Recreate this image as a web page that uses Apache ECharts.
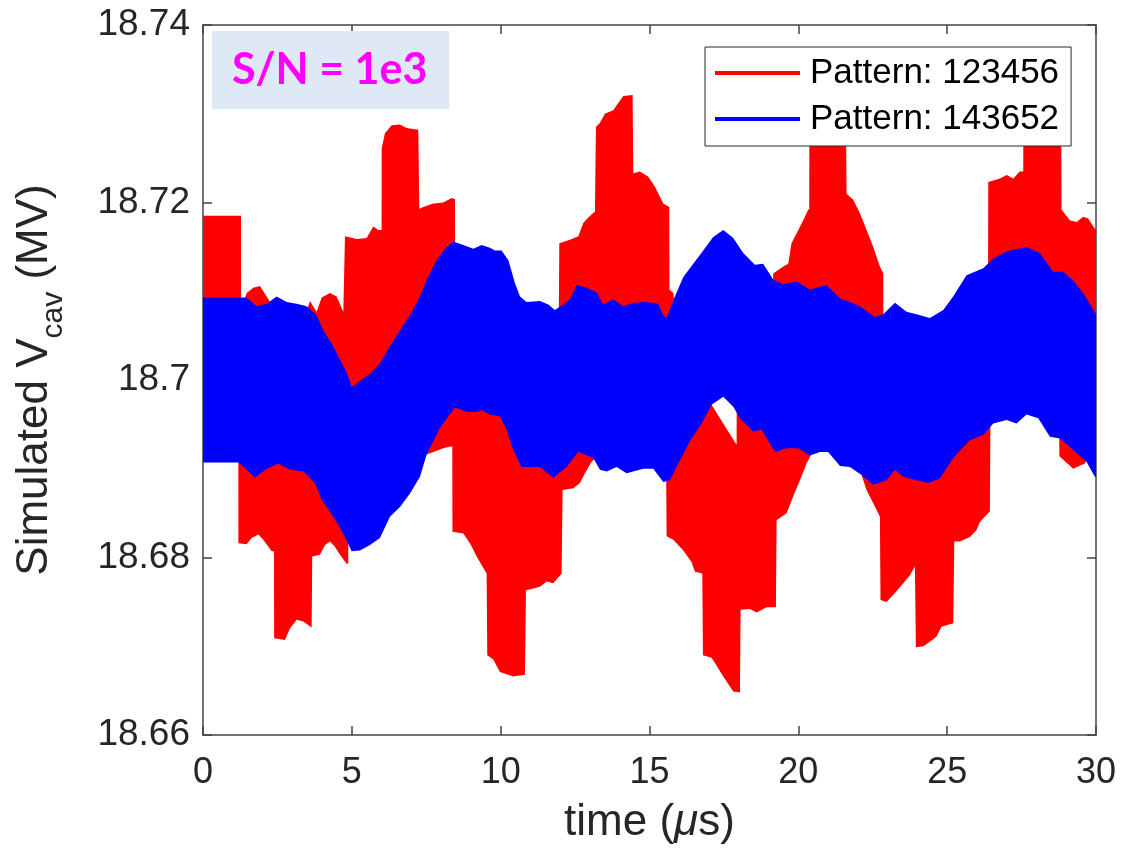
<!DOCTYPE html>
<html>
<head>
<meta charset="utf-8">
<script src="https://cdn.jsdelivr.net/npm/echarts@6/dist/echarts.min.js"></script>
<style>
  html, body { margin: 0; padding: 0; background: #fff; }
  #chart { width: 1122px; height: 860px; }
</style>
</head>
<body>
<div id="chart"></div>
<script>
// Envelopes of the simulated cavity voltage (time in µs, voltage in MV).
// Each band is the region between the upper and lower envelope of the fast ripple.
const seriesNames = ['Pattern: 123456', 'Pattern: 143652'];
const seriesColors = ['#ff0000', '#0000ff'];

const redUpper = [
  [0, 18.7185], [1.277, 18.7185], [1.28, 18.708], [1.467, 18.7098], [1.69, 18.7104], [1.915, 18.7106],
  [2.139, 18.7094], [2.306, 18.7085], [2.5, 18.707], [3.4, 18.707], [3.594, 18.7089], [3.818, 18.7077],
  [3.986, 18.7093], [4.266, 18.7098], [4.49, 18.7094], [4.714, 18.7077], [4.77, 18.7162], [5.162, 18.7159],
  [5.497, 18.716], [5.72, 18.7173], [5.89, 18.7169], [6.0, 18.7169], [6.003, 18.7261], [6.113, 18.7278],
  [6.337, 18.7287], [6.617, 18.7288], [6.841, 18.7284], [7.233, 18.7282], [7.267, 18.7193], [7.4, 18.7195],
  [7.737, 18.7199], [8.073, 18.72], [8.353, 18.7205], [8.465, 18.7204], [8.475, 18.706], [11.95, 18.706],
  [11.97, 18.7154], [12.328, 18.7158], [12.608, 18.7162], [12.776, 18.7177], [12.943, 18.7183], [13.167, 18.719],
  [13.2, 18.7285], [13.336, 18.729], [13.5, 18.73], [13.78, 18.7304], [13.95, 18.7312], [14.12, 18.732],
  [14.433, 18.7321], [14.455, 18.7233], [14.68, 18.7235], [14.96, 18.7229], [15.18, 18.7218], [15.463, 18.7199],
  [15.664, 18.7195], [15.67, 18.7102], [15.8, 18.7098], [15.89, 18.707], [16.9, 18.707], [17.086, 18.6972],
  [17.5, 18.695], [17.926, 18.6927], [17.94, 18.707], [19.1, 18.707], [19.158, 18.712], [19.494, 18.7128],
  [19.662, 18.7131], [19.77, 18.7154], [19.94, 18.7165], [20.165, 18.718], [20.333, 18.7192], [20.367, 18.7192],
  [20.37, 18.73], [21.6, 18.73], [21.62, 18.721], [21.845, 18.7203], [22.07, 18.7188], [22.293, 18.7169],
  [22.517, 18.715], [22.741, 18.7128], [22.853, 18.712], [22.86, 18.705], [26.37, 18.705], [26.38, 18.7223],
  [26.77, 18.7227], [26.996, 18.7231], [27.22, 18.7227], [27.44, 18.7235], [27.556, 18.7235], [27.56, 18.73],
  [28.83, 18.73], [28.843, 18.7192], [29.12, 18.718], [29.35, 18.7178], [29.57, 18.7184], [29.74, 18.7182],
  [29.91, 18.7173], [30, 18.7169]
];

const redLower = [
  [0, 18.692], [1.187, 18.692], [1.19, 18.6816], [1.467, 18.6815], [1.635, 18.6822], [1.859, 18.6826],
  [2.027, 18.682], [2.306, 18.6807], [2.385, 18.6807], [2.39, 18.6709], [2.754, 18.6707], [2.922, 18.672],
  [3.146, 18.673], [3.37, 18.6728], [3.65, 18.6721], [3.67, 18.6801], [3.93, 18.6803], [4.098, 18.6814],
  [4.266, 18.6818], [4.434, 18.6812], [4.602, 18.6803], [4.826, 18.6793], [4.88, 18.6793], [4.9, 18.69],
  [7.0, 18.6915], [7.513, 18.6916], [7.737, 18.6919], [8.073, 18.6923], [8.3, 18.6925], [8.375, 18.6925],
  [8.38, 18.6829], [8.745, 18.6827], [8.969, 18.6816], [9.193, 18.6801], [9.528, 18.6782], [9.55, 18.669],
  [9.752, 18.6685], [9.976, 18.6671], [10.42, 18.6666], [10.816, 18.6668], [10.85, 18.6763], [11.096, 18.6765],
  [11.32, 18.6767], [11.544, 18.6773], [11.768, 18.6771], [12.048, 18.6782], [12.08, 18.6876], [12.44, 18.6878],
  [12.664, 18.6884], [12.83, 18.6895], [13.056, 18.6908], [13.223, 18.6913], [13.4, 18.694], [15.55, 18.694],
  [15.575, 18.6824], [15.8, 18.682], [16.135, 18.6808], [16.414, 18.6795], [16.526, 18.6784], [16.773, 18.6782],
  [16.795, 18.669], [17.086, 18.6687], [17.198, 18.6681], [17.478, 18.6666], [17.814, 18.6649], [18.038, 18.6648],
  [18.06, 18.6741], [18.374, 18.6742], [18.598, 18.6738], [18.934, 18.6744], [19.247, 18.6744], [19.27, 18.6842],
  [19.606, 18.685], [19.83, 18.6869], [20.054, 18.6887], [20.278, 18.6906], [20.445, 18.6917], [20.6, 18.694],
  [21.9, 18.694], [22.125, 18.6893], [22.29, 18.6876], [22.517, 18.6861], [22.741, 18.6846], [22.76, 18.6752],
  [22.965, 18.675], [23.245, 18.676], [23.525, 18.6771], [23.749, 18.678], [23.916, 18.679], [23.95, 18.6699],
  [24.2, 18.67], [24.42, 18.6705], [24.645, 18.6711], [24.81, 18.6722], [25.204, 18.6726], [25.24, 18.6818],
  [25.428, 18.6818], [25.764, 18.6823], [25.988, 18.6831], [26.1, 18.684], [26.435, 18.6852], [26.46, 18.699],
  [28.75, 18.699], [28.77, 18.6914], [29.235, 18.69], [29.626, 18.6906], [29.75, 18.6915], [30, 18.692]
];

const blueUpper = [
  [0, 18.7093], [1.467, 18.7093], [1.8, 18.7083], [2.139, 18.7086], [2.475, 18.7094], [2.81, 18.7088],
  [3.146, 18.7086], [3.482, 18.7083], [3.818, 18.7073], [4.042, 18.7056], [4.378, 18.7038], [4.6, 18.7023],
  [4.826, 18.7009], [4.993, 18.6992], [5.273, 18.6999], [5.61, 18.7007], [5.945, 18.7019], [6.28, 18.7038],
  [6.617, 18.7056], [6.953, 18.7073], [7.29, 18.7094], [7.513, 18.7113], [7.849, 18.7135], [8.129, 18.7148],
  [8.409, 18.7156], [8.745, 18.7152], [9.08, 18.7148], [9.36, 18.7152], [9.64, 18.7149], [9.81, 18.7146],
  [10.03, 18.7146], [10.26, 18.7135], [10.48, 18.7109], [10.65, 18.7094], [10.87, 18.7088], [11.32, 18.7089],
  [11.6, 18.7085], [11.82, 18.7079], [12.104, 18.7085], [12.328, 18.7091], [12.55, 18.7107], [12.887, 18.7104],
  [13.223, 18.7099], [13.447, 18.7085], [13.78, 18.7091], [14.12, 18.7083], [14.455, 18.7087], [14.9, 18.7088],
  [15.295, 18.7086], [15.463, 18.7073], [15.575, 18.707], [15.8, 18.709], [16.135, 18.7116], [16.47, 18.7131],
  [16.806, 18.7146], [17.14, 18.7161], [17.478, 18.7169], [17.814, 18.716], [18.15, 18.7143], [18.54, 18.713],
  [18.82, 18.7131], [19.158, 18.7113], [19.494, 18.7108], [19.94, 18.7111], [20.39, 18.7102], [20.95, 18.7107],
  [21.4, 18.7092], [21.73, 18.7088], [22.07, 18.7083], [22.57, 18.7071], [22.853, 18.7074], [23.245, 18.7087],
  [23.636, 18.7077], [23.97, 18.7074], [24.42, 18.707], [24.868, 18.7079], [25.2, 18.7094], [25.65, 18.7118],
  [26.21, 18.7126], [26.55, 18.7137], [26.996, 18.7145], [27.67, 18.715], [28.115, 18.7143], [28.56, 18.7122],
  [28.9, 18.7122], [29.235, 18.7112], [29.57, 18.7098], [29.795, 18.7086], [30, 18.7074]
];

const blueLower = [
  [0, 18.6907], [1.187, 18.6907], [1.467, 18.6899], [1.746, 18.689], [2.083, 18.6899], [2.53, 18.6906],
  [2.922, 18.6899], [3.37, 18.6897], [3.762, 18.6884], [3.986, 18.6865], [4.378, 18.6846], [4.714, 18.6827],
  [4.993, 18.6807], [5.273, 18.6808], [5.61, 18.6814], [5.945, 18.6822], [6.28, 18.6846], [6.617, 18.6857],
  [6.953, 18.6872], [7.29, 18.6891], [7.513, 18.6916], [7.96, 18.6946], [8.465, 18.6969], [8.857, 18.6964],
  [9.19, 18.6964], [9.36, 18.6966], [9.64, 18.6961], [9.976, 18.6959], [10.2, 18.6944], [10.42, 18.6921],
  [10.7, 18.6902], [11.32, 18.6902], [11.768, 18.689], [12.216, 18.6902], [12.608, 18.6919], [13.11, 18.6912],
  [13.335, 18.6899], [13.56, 18.6897], [13.895, 18.6902], [14.23, 18.6895], [14.79, 18.69], [15.127, 18.69],
  [15.463, 18.6885], [15.687, 18.6887], [15.91, 18.6902], [16.358, 18.6931], [16.75, 18.6951], [17.086, 18.6972],
  [17.478, 18.6981], [17.814, 18.697], [18.038, 18.6957], [18.486, 18.6942], [18.766, 18.6944], [19.214, 18.6919],
  [19.606, 18.6923], [19.997, 18.6923], [20.39, 18.6915], [20.725, 18.6919], [21.0, 18.6919], [21.4, 18.6903],
  [21.73, 18.6902], [22.125, 18.6893], [22.517, 18.6882], [22.965, 18.6887], [23.245, 18.6899], [23.525, 18.6891],
  [23.97, 18.6887], [24.365, 18.6884], [24.756, 18.6889], [25.204, 18.6912], [25.764, 18.6932], [26.21, 18.6938],
  [26.55, 18.6951], [26.996, 18.6955], [27.33, 18.6951], [27.67, 18.6961], [28.06, 18.6957], [28.45, 18.6936],
  [28.79, 18.6934], [29.235, 18.6921], [29.68, 18.6908], [29.96, 18.6891], [30, 18.6891]
];

const xRange = [0, 30, 5];           // min, max, tick step (µs)
const yRange = [18.66, 18.74, 0.02]; // min, max, tick step (MV)
const annotationText = 'S/N = 1e3';

const axisColor = '#444444';
const textColor = '#262626';

// Closed polygon: upper envelope left to right, then lower envelope back.
function bandRenderer(upper, lower, color) {
  return function (params, api) {
    if (params.dataIndex !== 0) return null;
    const pts = upper.map(p => api.coord(p));
    for (let i = lower.length - 1; i >= 0; i--) pts.push(api.coord(lower[i]));
    return { type: 'polygon', shape: { points: pts }, style: { fill: color, stroke: null } };
  };
}

function frameAxis(extra) {
  return Object.assign({
    type: 'value',
    axisLine: { show: true, onZero: false, lineStyle: { color: axisColor, width: 1.5 } },
    axisTick: { show: true, inside: true, length: 9, lineStyle: { color: axisColor, width: 1.5 } },
    splitLine: { show: false }
  }, extra);
}

const chart = echarts.init(document.getElementById('chart'), null, { renderer: 'canvas' });

chart.setOption({
  animation: false,
  backgroundColor: '#ffffff',
  title: {
    text: annotationText,
    left: 212, top: 31,
    backgroundColor: '#dfe9f5',
    padding: [15, 22, 15, 20],
    textStyle: { color: '#ff00ff', fontFamily: 'Lato', fontWeight: 'bold', fontSize: 43, lineHeight: 48 }
  },
  legend: {
    orient: 'vertical',
    left: 705, top: 47,
    padding: [6, 12, 7, 10],
    itemGap: 6,
    itemWidth: 85, itemHeight: 4,
    icon: 'rect',
    backgroundColor: '#ffffff',
    borderColor: '#262626', borderWidth: 1,
    data: seriesNames,
    textStyle: { color: '#000', fontFamily: 'Liberation Sans', fontSize: 35, lineHeight: 40, padding: [0, 0, 0, 5] }
  },
  grid: { left: 203, right: 26, top: 25, bottom: 125, containLabel: false },
  xAxis: [
    frameAxis({
      min: xRange[0], max: xRange[1], interval: xRange[2], position: 'bottom',
      axisLabel: { color: textColor, fontFamily: 'Liberation Sans', fontSize: 36, margin: 20 },
      name: '{a|time (}{m|μ}{a|s)}',
      nameLocation: 'middle', nameGap: 66,
      nameTextStyle: {
        rich: {
          a: { color: textColor, fontFamily: 'Liberation Sans', fontSize: 44 },
          m: { color: textColor, fontFamily: 'Liberation Sans', fontSize: 44, fontStyle: 'italic' }
        }
      }
    }),
    frameAxis({
      min: xRange[0], max: xRange[1], interval: xRange[2], position: 'top',
      axisLabel: { show: false }
    })
  ],
  yAxis: [
    frameAxis({
      min: yRange[0], max: yRange[1], interval: yRange[2], position: 'left',
      axisLabel: {
        color: textColor, fontFamily: 'Liberation Sans', fontSize: 37, margin: 13,
        formatter: v => String(Math.round(v * 100) / 100)
      },
      name: '{a|Simulated V}{s|cav}{a| (MV)}',
      nameLocation: 'middle', nameRotate: 90, nameGap: 134,
      nameTextStyle: {
        rich: {
          a: { color: textColor, fontFamily: 'Liberation Sans', fontSize: 44, lineHeight: 68 },
          s: { color: textColor, fontFamily: 'Liberation Sans', fontSize: 30, lineHeight: 30, verticalAlign: 'bottom' }
        }
      }
    }),
    frameAxis({
      min: yRange[0], max: yRange[1], interval: yRange[2], position: 'right',
      axisLabel: { show: false }
    })
  ],
  series: [
    {
      type: 'custom', name: seriesNames[0], xAxisIndex: 0, yAxisIndex: 0,
      clip: true, silent: true, z: 2,
      itemStyle: { color: seriesColors[0] },
      encode: { x: 0, y: 1 },
      data: redUpper,
      renderItem: bandRenderer(redUpper, redLower, seriesColors[0])
    },
    {
      type: 'custom', name: seriesNames[1], xAxisIndex: 0, yAxisIndex: 0,
      clip: true, silent: true, z: 3,
      itemStyle: { color: seriesColors[1] },
      encode: { x: 0, y: 1 },
      data: blueUpper,
      renderItem: bandRenderer(blueUpper, blueLower, seriesColors[1])
    }
  ]
});
</script>
</body>
</html>
